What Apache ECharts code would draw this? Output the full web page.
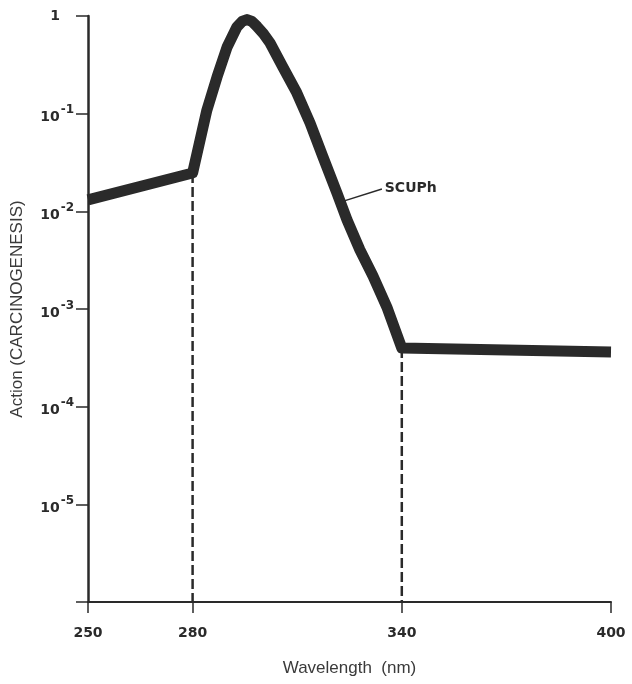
<!DOCTYPE html>
<html>
<head>
<meta charset="utf-8">
<script src="https://cdn.jsdelivr.net/npm/echarts@6/dist/echarts.min.js"></script>
<style>
html,body{margin:0;padding:0;background:#fff;}
#chart{width:632px;height:684px;}
</style>
</head>
<body>
<div id="chart"></div>
<script>
// Data
const wavelength = [250, 280, 284.1, 287, 289.9, 292.7, 294.2, 295.6, 297, 298.5, 300.3, 302.2, 305.9, 309.9, 313.7, 317.4, 321.4, 324.3, 328, 331.7, 335.7, 340, 400];
const action = [0.0131, 0.0247, 0.109, 0.237, 0.482, 0.771, 0.88, 0.92, 0.88, 0.78, 0.66, 0.53, 0.30, 0.163, 0.080, 0.036, 0.0154, 0.00815, 0.00402, 0.00219, 0.00105, 0.000398, 0.000363];
const xTicks = [250, 280, 340, 400];
const yTicks = [1e-6, 1e-5, 1e-4, 1e-3, 1e-2, 1e-1, 1];
const dropLines = [[280, 0.0247], [340, 0.000398]];
const seriesName = 'SCUPh';
const calloutFrom = [322.6, 0.0125];
const calloutTo = [334.3, 0.0169];

const ink = '#2a2a2a';
const chart = echarts.init(document.getElementById('chart'));

const series = [{
  type: 'line',
  name: seriesName,
  data: wavelength.map((w, i) => [w, action[i]]),
  showSymbol: false,
  lineStyle: { color: ink, width: 11, join: 'round', cap: 'butt' },
  z: 5,
  markLine: {
    silent: true,
    symbol: ['none', 'none'],
    lineStyle: { color: ink, width: 1.5, type: 'solid' },
    label: {
      show: true, position: 'end', formatter: seriesName,
      fontFamily: 'DejaVu Sans', fontWeight: 'bold', fontSize: 14, color: ink,
      distance: 3
    },
    data: [[{ coord: calloutFrom }, { coord: calloutTo }]]
  }
}];
dropLines.forEach(d => {
  series.push({
    type: 'line',
    data: [[d[0], d[1]], [d[0], yTicks[0]]],
    showSymbol: false,
    lineStyle: { color: ink, width: 2.5, type: [10, 4] },
    z: 3
  });
});

chart.setOption({
  animation: false,
  grid: { left: 88, right: 21, top: 16, bottom: 82, containLabel: false },
  xAxis: {
    type: 'value', min: 250, max: 400,
    name: 'Wavelength  (nm)', nameLocation: 'middle', nameGap: 58,
    nameTextStyle: { fontFamily: 'Liberation Sans', fontSize: 17, color: '#3a3a3a' },
    axisLine: { lineStyle: { color: ink, width: 2 } },
    axisTick: { show: true, length: 11, lineStyle: { color: ink, width: 1.5 }, customValues: xTicks },
    axisLabel: { customValues: xTicks, margin: 24, fontFamily: 'DejaVu Sans', fontWeight: 'bold', fontSize: 14, color: ink },
    splitLine: { show: false }
  },
  yAxis: {
    type: 'log', logBase: 10, min: 1e-6, max: 1,
    name: 'Action (CARCINOGENESIS)', nameLocation: 'middle', nameGap: 62,
    nameTextStyle: { fontFamily: 'Liberation Sans', fontSize: 17, color: '#3a3a3a' },
    axisLine: { lineStyle: { color: ink, width: 2.5 } },
    axisTick: { show: true, length: 12, lineStyle: { color: ink, width: 1.5 } },
    axisLabel: {
      margin: 14,
      formatter: function (v) {
        const e = Math.round(Math.log10(v));
        if (e === 0) return '{one|1}';
        if (e <= -6) return '';
        return '{b|10}{s|' + e + '}';
      },
      rich: {
        one: { fontFamily: 'DejaVu Sans', fontWeight: 'bold', fontSize: 14, color: ink, padding: [0, 14, 0, 0] },
        b: { fontFamily: 'DejaVu Sans', fontWeight: 'bold', fontSize: 14, color: ink, padding: [8, 0, 0, 0] },
        s: { fontFamily: 'DejaVu Sans', fontWeight: 'bold', fontSize: 12, color: ink, padding: [0, 0, 7, 1] }
      }
    },
    splitLine: { show: false }
  },
  series: series
});
</script>
</body>
</html>
